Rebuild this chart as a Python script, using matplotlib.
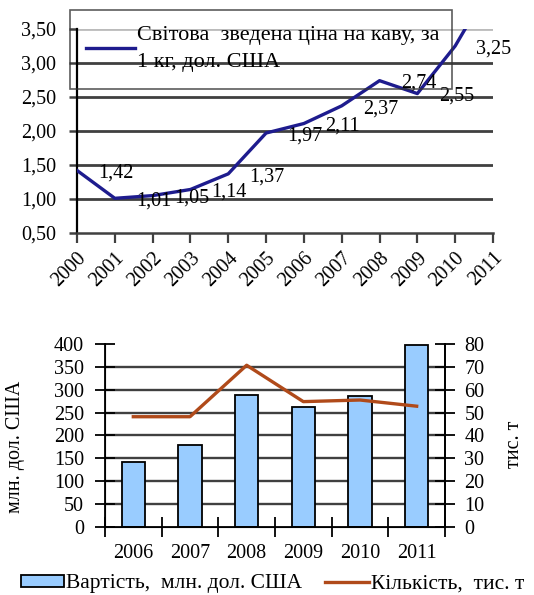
import matplotlib
matplotlib.use("Agg")
import matplotlib.pyplot as plt
import numpy as np

plt.rcParams['font.family'] = ['Liberation Serif', 'DejaVu Serif']

# Світова ціна на каву
years_price = ['2000', '2001', '2002', '2003', '2004', '2005',
               '2006', '2007', '2008', '2009', '2010', '2011']
price = [1.42, 1.01, 1.05, 1.14, 1.37, 1.97, 2.11, 2.37, 2.74, 2.55, 3.25, 4.20]
price_ticks = [0.50, 1.00, 1.50, 2.00, 2.50, 3.00, 3.50]

# Імпорт кави: вартість і кількість
years_imp = ['2006', '2007', '2008', '2009', '2010', '2011']
value_musd = [143, 180, 288, 262, 286, 397]
qty_kt = [48.2, 48.2, 70.7, 54.8, 55.5, 52.8]

navy = '#1E1C8E'
brown = '#B04A1A'
bar_blue = '#99CCFF'
grid_c = '#404040'
fs = 14.5

fig = plt.figure(figsize=(5.34, 5.95), dpi=100)

# ---------------- верхній графік ----------------
ax1 = fig.add_axes([0.1442, 0.6084, 0.7790, 0.3429])
x1 = np.arange(len(years_price))
for v in price_ticks[1:-1]:
    ax1.axhline(v, color=grid_c, lw=2.0, zorder=1)
ax1.axhline(price_ticks[-1], color='#BBBBBB', lw=2.0, zorder=1)
line1, = ax1.plot(x1, price, color=navy, lw=2.4, zorder=3,
                  label='Світова  зведена ціна на каву, за\n1 кг, дол. США')
for xi, v in zip(x1, price):
    ax1.annotate(f'{v:.2f}'.replace('.', ','), (xi, v), xytext=(28, -2),
                 textcoords='offset points', ha='center', va='center',
                 fontsize=fs, annotation_clip=True)
ax1.set_xlim(0, 11)
ax1.set_ylim(0.5, 3.5)
ax1.set_yticks(price_ticks)
ax1.set_yticklabels([f'{v:.2f}'.replace('.', ',') for v in price_ticks], fontsize=fs)
ax1.set_xticks(x1)
ax1.set_xticklabels(years_price, rotation=45, ha='right', rotation_mode='anchor',
                    fontsize=fs)
ax1.tick_params(axis='y', length=6, width=1.8, color=grid_c, pad=9)
ax1.tick_params(axis='x', length=7, width=1.6, color=grid_c, pad=4)
for s in ['top', 'right']:
    ax1.spines[s].set_visible(False)
ax1.spines['left'].set_linewidth(1.6)
ax1.spines['bottom'].set_linewidth(1.8)
ax1.spines['bottom'].set_color(grid_c)

leg1 = ax1.legend(handles=[line1], loc='upper left',
                  bbox_to_anchor=(-0.018, 1.095, 0.92, 0.0), mode='expand',
                  fontsize=16, frameon=True, fancybox=False, handlelength=2.2,
                  handletextpad=0.1, borderpad=0.75, borderaxespad=0)
leg1.get_texts()[0].set_linespacing(1.55)
leg1.get_frame().set_edgecolor('#333333')
leg1.get_frame().set_facecolor('none')
leg1.get_frame().set_linewidth(1.2)

# ---------------- нижній графік ----------------
ax2 = fig.add_axes([0.1966, 0.1143, 0.6367, 0.3076])
x2 = np.arange(len(years_imp))
for v in range(50, 400, 50):
    ax2.axhline(v, color=grid_c, lw=1.7, zorder=1)
bars = ax2.bar(x2, value_musd, width=0.41, color=bar_blue, edgecolor='black',
               lw=1.3, zorder=2, label='Вартість,  млн. дол. США')
ax2.set_xlim(-0.5, 5.5)
ax2.set_ylim(0, 400)
ax2.set_yticks(range(0, 401, 50))
ax2.tick_params(axis='y', labelsize=fs, direction='inout', length=14, width=1.3,
                pad=8)
ax2.set_xticks(x2)
ax2.set_xticklabels(years_imp, fontsize=fs)
ax2.set_xticks(np.arange(-0.5, 6, 1), minor=True)
ax2.tick_params(axis='x', which='major', length=0, pad=12)
ax2.tick_params(axis='x', which='minor', direction='inout', length=14, width=1.3)
ax2.set_ylabel('млн. дол. США', fontsize=fs, va='center')
ax2.yaxis.set_label_coords(-0.262, 0.44)
ax2.spines['top'].set_visible(False)
for s in ['left', 'right', 'bottom']:
    ax2.spines[s].set_linewidth(1.3)

ax3 = ax2.twinx()
line2, = ax3.plot(x2, qty_kt, color=brown, lw=2.4, zorder=3,
                  label='Кількість,  тис. т')
ax3.set_ylim(0, 80)
ax3.set_yticks(range(0, 81, 10))
ax3.tick_params(axis='y', labelsize=fs, direction='inout', length=14, width=1.3,
                pad=7)
ax3.set_ylabel('тис. т', fontsize=fs, va='center')
ax3.yaxis.set_label_coords(1.203, 0.45)
ax3.spines['top'].set_visible(False)
ax3.spines['right'].set_linewidth(1.3)

fig.legend(handles=[bars, line2], loc='lower center', ncol=2,
           bbox_to_anchor=(0.51, -0.03), frameon=False, fontsize=15.5,
           handlelength=2.0, handleheight=0.5, handletextpad=0.1,
           columnspacing=1.1)

fig.savefig('out.png', dpi=100)
